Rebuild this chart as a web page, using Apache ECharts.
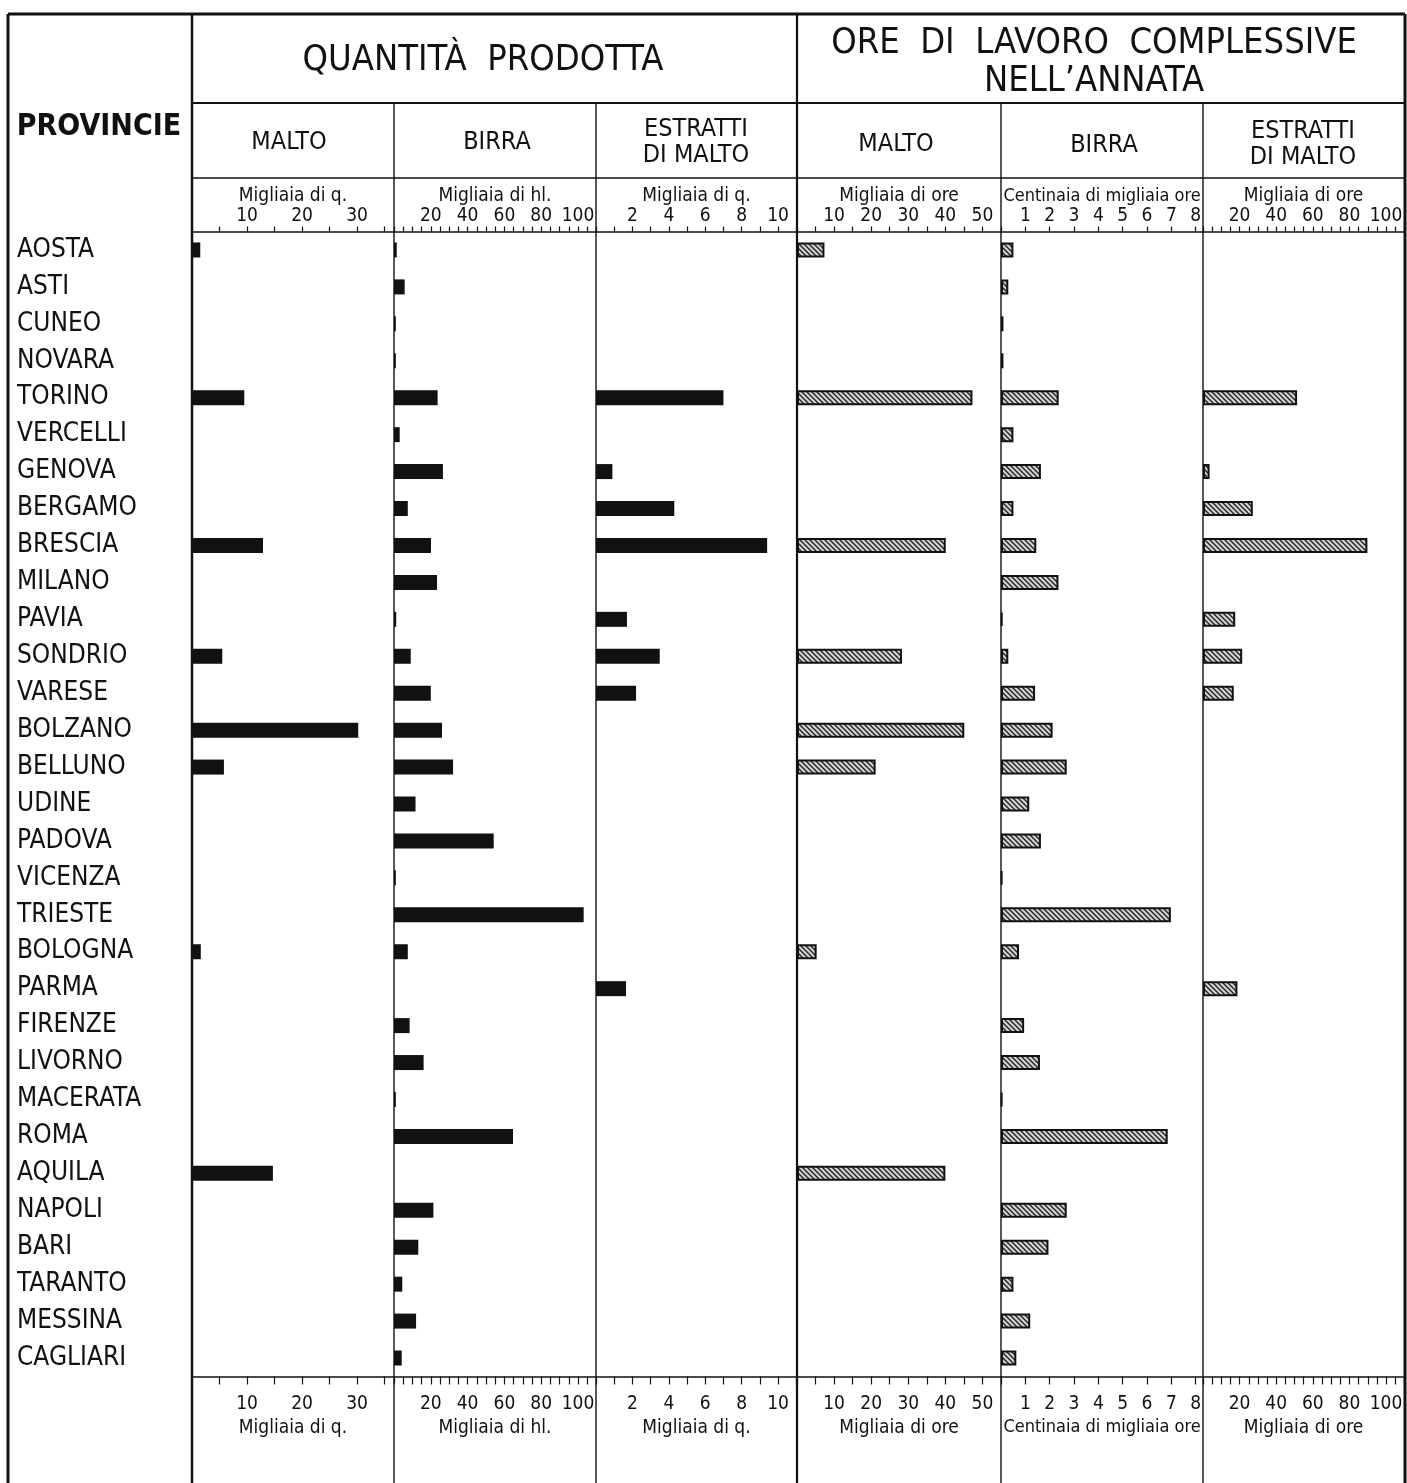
<!DOCTYPE html>
<html>
<head>
<meta charset="utf-8">
<script src="https://cdn.jsdelivr.net/npm/echarts@6/dist/echarts.min.js"></script>
<style>
html,body{margin:0;padding:0;background:#fff;}
#chart{width:1407px;height:1483px;}
</style>
</head>
<body>
<div id="chart"></div>
<script>
// ---------------- DATA ----------------
const provinces = ['AOSTA','ASTI','CUNEO','NOVARA','TORINO','VERCELLI','GENOVA','BERGAMO','BRESCIA','MILANO','PAVIA','SONDRIO','VARESE','BOLZANO','BELLUNO','UDINE','PADOVA','VICENZA','TRIESTE','BOLOGNA','PARMA','FIRENZE','LIVORNO','MACERATA','ROMA','AQUILA','NAPOLI','BARI','TARANTO','MESSINA','CAGLIARI'];
// Quantità prodotta
const maltoQ    = [1.5,null,null,null,9.5,null,null,null,12.9,null,null,5.5,null,30.2,5.8,null,null,null,null,1.6,null,null,null,null,null,14.7,null,null,null,null,null];
const birraQ    = [1.5,5.8,1,1,23.7,3.1,26.6,7.5,20.1,23.4,1.2,9.1,20,26.1,32.1,11.7,54.2,1,103.1,7.5,null,8.5,16.1,1,64.7,null,21.4,13.2,4.5,12,4.2];
const estrattiQ = [null,null,null,null,7.0,null,0.9,4.3,9.4,null,1.7,3.5,2.2,null,null,null,null,null,null,null,1.65,null,null,null,null,null,null,null,null,null,null];
// Ore di lavoro complessive nell'annata
const maltoOre    = [7.4,null,null,null,47.3,null,null,null,40.1,null,null,28.3,null,45.1,21.2,null,null,null,null,5.3,null,null,null,null,null,40,null,null,null,null,null];
const birraOre    = [0.51,0.3,0.1,0.1,2.37,0.51,1.64,0.51,1.45,2.36,0.06,0.3,1.4,2.12,2.7,1.16,1.64,0.05,6.98,0.74,null,0.95,1.6,0.05,6.85,null,2.7,1.95,0.51,1.2,0.63];
const estrattiOre = [null,null,null,null,51.4,null,3.6,27.2,89.8,null,17.6,21.4,16.8,null,null,null,null,null,null,null,18.8,null,null,null,null,null,null,null,null,null,null];

// Axis scales: [min, max, tick interval, label step]
const maltoQAxis     = [0, 36.7, 5, 10];
const birraQAxis     = [0, 109.8, 5, 20];
const estrattiQAxis  = [0, 11.04, 1, 2];
const maltoOreAxis   = [0, 55, 5, 10];
const birraOreAxis   = [0, 8.3, 1, 1];
const estrattiOreAxis= [0, 109.8, 5, 20];

const unitNames = ['Migliaia di q.','Migliaia di hl.','Migliaia di q.','Migliaia di ore','Centinaia di migliaia ore','Migliaia di ore'];
const groupTitles = ['QUANTITÀ  PRODOTTA', 'ORE  DI  LAVORO  COMPLESSIVE\nNELL\u2019ANNATA'];
const subTitles = ['MALTO','BIRRA','ESTRATTI\nDI MALTO','MALTO','BIRRA','ESTRATTI\nDI MALTO'];

// ---------------- LAYOUT ----------------
const FONT = "'DejaVu Sans Condensed','DejaVu Sans',sans-serif";
const INK = '#111';
const panelX = [192, 394, 596, 797, 1001, 1203, 1405];
const GRID_TOP = 231.5, GRID_BOTTOM = 1376.5;

const series = [maltoQ, birraQ, estrattiQ, maltoOre, birraOre, estrattiOre];
const axes = [maltoQAxis, birraQAxis, estrattiQAxis, maltoOreAxis, birraOreAxis, estrattiOreAxis];

function hatch(){
  const c = document.createElement('canvas');
  c.width = 5; c.height = 5;
  const g = c.getContext('2d');
  g.fillStyle = '#d4d4d4'; g.fillRect(0,0,5,5);
  g.strokeStyle = '#222'; g.lineWidth = 1.4;
  g.beginPath();
  g.moveTo(-1,-1); g.lineTo(6,6);
  g.moveTo(-1,4); g.lineTo(1,6);
  g.moveTo(4,-1); g.lineTo(6,1);
  g.stroke();
  return c;
}
const hatchImg = hatch();

const grids = [], xAxes = [], yAxes = [], seriesOpt = [];
for (let i = 0; i < 6; i++) {
  const left = panelX[i], width = panelX[i+1] - panelX[i];
  grids.push({left: left, top: GRID_TOP, width: width, height: GRID_BOTTOM - GRID_TOP, containLabel: false});
  const a = axes[i];
  const fmt = function(v){
    if (v <= 0) return '';
    const r = v / a[3];
    return Math.abs(r - Math.round(r)) < 1e-6 ? String(Math.round(v)) : '';
  };
  const nameSize = unitNames[i].length > 18 ? 18 : 19;
  ['top','bottom'].forEach(function(pos){
    xAxes.push({
      type: 'value', gridIndex: i, position: pos,
      min: a[0], max: a[1], interval: a[2],
      name: unitNames[i], nameLocation: 'middle',
      nameGap: pos === 'top' ? 26 : 40,
      nameMoveOverlap: pos === 'top' ? false : true,
      nameTextStyle: {fontFamily: FONT, fontSize: nameSize, color: INK},
      axisLine: {show: true, lineStyle: {color: INK, width: 1.5}},
      axisTick: {show: true, length: pos === 'top' ? 5 : 8, lineStyle: {color: INK, width: 1.2}},
      axisLabel: {show: true, formatter: fmt, margin: pos === 'top' ? 6 : 18,
        fontFamily: FONT, fontSize: 19, color: INK, showMinLabel: false, showMaxLabel: true},
      splitLine: {show: false}
    });
  });
  yAxes.push({
    type: 'category', gridIndex: i, data: provinces, inverse: true,
    axisLine: {show: false}, axisTick: {show: false},
    axisLabel: i === 0 ? {show: true, align: 'left', margin: 175, fontFamily: FONT, fontSize: 26, color: INK} : {show: false},
    splitLine: {show: false}
  });
  const hatched = i >= 3;
  seriesOpt.push({
    type: 'bar', xAxisIndex: i*2, yAxisIndex: i,
    data: series[i], barWidth: 15,
    itemStyle: hatched ? {color: {image: hatchImg, repeat: 'repeat'}, borderColor: INK, borderWidth: 2}
                       : {color: INK},
    silent: true, animation: false
  });
}

// ---------------- TABLE FRAME & HEADERS ----------------
const graphics = [];
function line(x1,y1,x2,y2,w){
  graphics.push({type:'line', shape:{x1:x1,y1:y1,x2:x2,y2:y2}, style:{stroke: INK, lineWidth: w}, silent:true, z: 50});
}
function text(str, x, y, size, weight, lh){
  graphics.push({type:'text', x: x, y: y, silent: true, z: 50,
    style:{text: str, fill: INK, font: (weight||'normal') + ' ' + size + 'px ' + FONT,
      textAlign: 'center', textVerticalAlign: 'middle', lineHeight: lh || Math.round(size*1.0)}});
}
line(8, 14, 1405, 14, 3);
line(8, 14, 8, 1483, 3);
line(1405, 14, 1405, 1483, 3);
line(192, 14, 192, 1483, 2.5);
line(797, 14, 797, 1483, 2.2);
[394, 596, 1001, 1203].forEach(function(x){ line(x, 103, x, 1483, 1.4); });
line(192, 103, 1405, 103, 2);
line(192, 178, 1405, 178, 1.6);

text('PROVINCIE', 99, 127, 30, 'bold');
text(groupTitles[0], 483, 61, 36);
text(groupTitles[1], 1094, 63, 36, 'normal', 38);
const subX = [289, 497, 696, 896, 1104, 1303];
const subY = [142, 142, 142, 144, 145, 144];
subTitles.forEach(function(s, i){ text(s, subX[i], subY[i], 25, 'normal', 26); });

const option = {
  backgroundColor: '#ffffff',
  animation: false,
  grid: grids, xAxis: xAxes, yAxis: yAxes, series: seriesOpt,
  graphic: graphics
};
const chart = echarts.init(document.getElementById('chart'), null, {renderer: 'canvas'});
chart.setOption(option);
</script>
</body>
</html>
